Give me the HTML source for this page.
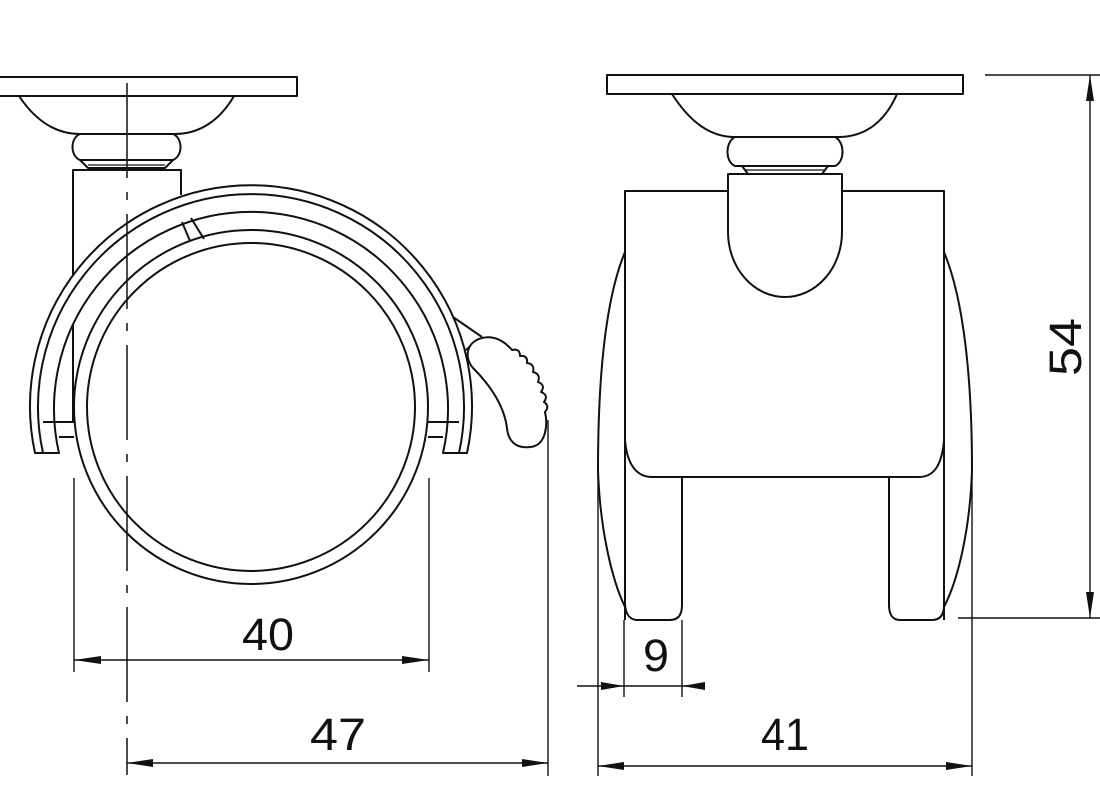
<!DOCTYPE html>
<html><head><meta charset="utf-8"><style>
html,body{margin:0;padding:0;background:#fff;}
svg{display:block;}
text{font-family:"Liberation Sans",sans-serif;fill:#111;}
</style></head><body>
<svg width="1100" height="800" viewBox="0 0 1100 800" xmlns="http://www.w3.org/2000/svg">
<rect width="1100" height="800" fill="#fff"/>
<g fill="none" stroke="#111" stroke-width="2" stroke-linejoin="round">
<!-- LEFT VIEW -->
<rect x="-2" y="77" width="299" height="19"/>
<path d="M19,96 C35,120 55,134 80,134 L175,134 C200,134 220,120 234,96"/>
<path d="M80,134 C70,138 70,156 80,160 L173,160 C183,156 183,138 173,134"/>
<path d="M80,160 L88,168 L165,168 L173,160"/>
<line x1="88" y1="165" x2="165" y2="165" stroke-width="1.3"/>
<path d="M73,423 L73,170 L181,170 L181,195"/>
<!-- fork ring -->
<path fill="#fff" d="M35,453 A221,221 0 1 1 467,453 L443,453 A197,197 0 1 0 59,453 Z"/>
<path d="M43,453 A213,213 0 1 1 459,453"/>
<line x1="43" y1="422" x2="74" y2="422"/>
<line x1="59" y1="437" x2="74" y2="437"/>
<line x1="428" y1="422" x2="459" y2="422"/>
<line x1="428" y1="437" x2="443" y2="437"/>
<!-- small slanted piece -->
<path d="M182,222 L190,241 M191,218 L204,239"/>
<!-- wheel -->
<circle cx="251" cy="407" r="177"/>
<circle cx="251" cy="407" r="164"/>
<!-- brake lever -->
<path d="M453,317 L482,337 M466,350 L475,342"/>
<path fill="#fff" d="M473,368 C464,358 466,342 482,338 C495,335 505,342 512,350 Q520,348 520,356 Q528,355 527,363 Q535,364 533,372 Q541,374 538,382 Q546,385 541,392 Q549,395 544,402 Q550,406 545,412 C548,425 546,446 530,447 C515,449 508,440 507,428 C504,405 490,385 473,368 Z"/>
</g>
<!-- centerline -->
<line x1="127" y1="83" x2="127" y2="775" stroke="#111" stroke-width="1.5" stroke-dasharray="95,14,8,14"/>
<!-- left dims -->
<g stroke="#111" stroke-width="1.4" fill="none">
<line x1="74" y1="478" x2="74" y2="672"/>
<line x1="429" y1="478" x2="429" y2="672"/>
<line x1="74" y1="660" x2="429" y2="660"/>
<line x1="548" y1="420" x2="548" y2="776"/>
<line x1="127" y1="763" x2="548" y2="763"/>
</g>
<g fill="#111">
<path d="M74,660 L101,656 L101,664 Z"/>
<path d="M429,660 L402,656 L402,664 Z"/>
<path d="M127,763 L153,759 L153,767 Z"/>
<path d="M548,763 L522,759 L522,767 Z"/>
</g>
<text x="268" y="650" font-size="45" text-anchor="middle" textLength="52" lengthAdjust="spacingAndGlyphs">40</text>
<text x="338" y="750" font-size="45" text-anchor="middle" textLength="56" lengthAdjust="spacingAndGlyphs">47</text>

<!-- RIGHT VIEW -->
<g fill="none" stroke="#111" stroke-width="2" stroke-linejoin="round">
<rect x="607" y="75" width="356" height="19"/>
<path d="M672,94 C690,122 710,137 735,137 L838,137 C865,137 885,122 897,94"/>
<path d="M735,137 C725,142 725,162 735,166 L835,166 C845,162 845,142 835,137"/>
<path d="M742,166 L748,174 L822,174 L828,166"/>
<line x1="745" y1="170" x2="825" y2="170" stroke-width="1.3"/>
<path d="M728,174 L728,232 A57,65 0 0 0 842,232 L842,174 Z"/>
<path d="M728,191 L625,191 L625,620 M842,191 L944,191 L944,620"/>
<path d="M625,440 C627,465 637,477 652,477 L919,477 C934,477 942,465 944,440"/>
<path d="M625,605 C626,615 630,620 638,620 L670,620 C678,620 682,615 682,605 L682,477"/>
<path d="M889,477 L889,605 C889,615 893,620 900,620 L932,620 C940,620 944,615 944,605"/>
<path d="M625,252 C605,300 598,380 598,470 C600,530 612,580 625,607"/>
<path d="M944,252 C964,300 972,380 972,470 C970,530 958,580 944,607"/>
</g>
<g stroke="#111" stroke-width="1.4" fill="none">
<line x1="598" y1="470" x2="598" y2="776"/>
<line x1="972" y1="470" x2="972" y2="776"/>
<line x1="624" y1="620" x2="624" y2="697"/>
<line x1="682" y1="620" x2="682" y2="697"/>
<line x1="577" y1="686" x2="705" y2="686"/>
<line x1="598" y1="766" x2="972" y2="766"/>
<line x1="985" y1="75" x2="1100" y2="75"/>
<line x1="958" y1="618" x2="1100" y2="618"/>
<line x1="1090" y1="75" x2="1090" y2="618"/>
</g>
<g fill="#111">
<path d="M624,686 L601,682 L601,690 Z"/>
<path d="M682,686 L705,682 L705,690 Z"/>
<path d="M598,766 L624,762 L624,770 Z"/>
<path d="M972,766 L946,762 L946,770 Z"/>
<path d="M1090,75 L1086,101 L1094,101 Z"/>
<path d="M1090,618 L1086,592 L1094,592 Z"/>
</g>
<text x="656" y="671" font-size="45" text-anchor="middle" textLength="26" lengthAdjust="spacingAndGlyphs">9</text>
<text x="785" y="750" font-size="45" text-anchor="middle" textLength="48" lengthAdjust="spacingAndGlyphs">41</text>
<text transform="translate(1081,347) rotate(-90)" x="0" y="0" font-size="45" text-anchor="middle" textLength="58" lengthAdjust="spacingAndGlyphs">54</text>
</svg>
</body></html>
